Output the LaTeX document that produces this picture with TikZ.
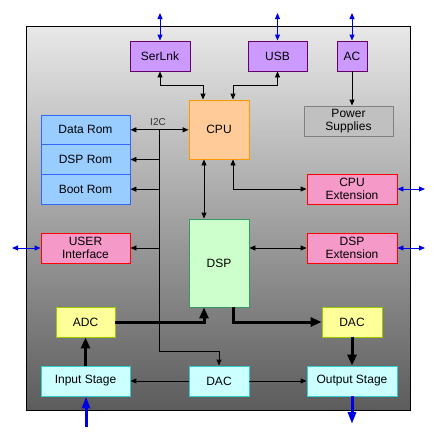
\documentclass[tikz,border=0pt]{standalone}
\usepackage{fontspec}
\setmainfont{Liberation Sans}
\usetikzlibrary{arrows.meta,calc}
\definecolor{bgtop}{RGB}{232,232,232}
\definecolor{bgbot}{RGB}{92,92,92}
\definecolor{purfill}{RGB}{204,153,255}
\definecolor{purdraw}{RGB}{102,0,102}
\definecolor{psfill}{RGB}{192,192,192}
\definecolor{psdraw}{RGB}{128,128,128}
\definecolor{cpufill}{RGB}{255,204,153}
\definecolor{cpudraw}{RGB}{255,153,0}
\definecolor{pinkfill}{RGB}{245,153,200}
\definecolor{pinkdraw}{RGB}{255,0,0}
\definecolor{romfill}{RGB}{153,204,255}
\definecolor{romdraw}{RGB}{51,102,255}
\definecolor{dspfill}{RGB}{204,255,204}
\definecolor{dspdraw}{RGB}{51,153,102}
\definecolor{yelfill}{RGB}{255,255,153}
\definecolor{yeldraw}{RGB}{153,204,0}
\definecolor{cyanfill}{RGB}{204,255,255}
\definecolor{cyandraw}{RGB}{51,204,204}
\definecolor{extblue}{RGB}{0,0,230}
\definecolor{labgray}{RGB}{50,50,50}
\tikzset{
  blk/.style={draw, line width=0.9pt, inner sep=0pt, align=center,
    font=\fontsize{12}{13.5}\selectfont, text=black},
  pur/.style={blk, fill=purfill, draw=purdraw},
  psb/.style={blk, fill=psfill, draw=psdraw},
  cpub/.style={blk, fill=cpufill, draw=cpudraw},
  pinkb/.style={blk, fill=pinkfill, draw=pinkdraw},
  romb/.style={blk, fill=romfill, draw=romdraw},
  dspb/.style={blk, fill=dspfill, draw=dspdraw},
  yelb/.style={blk, fill=yelfill, draw=yeldraw},
  cyanb/.style={blk, fill=cyanfill, draw=cyandraw},
  arr/.style={line width=0.9pt, -{Triangle[length=6pt,width=5pt]}},
  dbl/.style={line width=0.9pt, {Triangle[length=6pt,width=5pt]}-{Triangle[length=6pt,width=5pt]}},
  thk/.style={line width=3pt, -{Triangle[length=11pt,width=9pt]}},
  bdbl/.style={extblue, line width=0.9pt, {Triangle[length=6pt,width=5pt]}-{Triangle[length=6pt,width=5pt]}},
  bthk/.style={extblue, line width=3pt, -{Triangle[length=12pt,width=8pt]}},
}
\begin{document}
\begin{tikzpicture}[x=1pt,y=-1pt]
\useasboundingbox (0,0) rectangle (437,442);
\path[draw=black, line width=0.9pt, top color=bgtop, bottom color=bgbot] (26,26) rectangle (410,410);

% nodes
\node[pur, minimum width=60pt, minimum height=30pt] (serlnk) at (160,56) {SerLnk};
\node[pur, minimum width=59pt, minimum height=30pt] (usb) at (277.5,56) {USB};
\node[pur, minimum width=30pt, minimum height=30pt] (ac) at (352,56) {AC};
\node[psb, minimum width=89pt, minimum height=30pt] (ps) at (348.5,121) {Power\\Supplies};
\node[cpub, minimum width=60pt, minimum height=59pt] (cpu) at (219,129.5) {CPU};
\node[pinkb, minimum width=90pt, minimum height=30pt] (cpuext) at (352,189) {CPU\\Extension};
\node[romb, minimum width=89pt, minimum height=29.7pt] (datarom) at (85.5,129.8) {Data Rom};
\node[romb, minimum width=89pt, minimum height=29.7pt] (dsprom) at (85.5,159.5) {DSP Rom};
\node[romb, minimum width=89pt, minimum height=29.7pt] (bootrom) at (85.5,189.2) {Boot Rom};
\node[pinkb, minimum width=89pt, minimum height=30pt] (user) at (85.5,248) {USER\\Interface};
\node[dspb, minimum width=60pt, minimum height=88pt] (dsp) at (219,263) {DSP};
\node[pinkb, minimum width=90pt, minimum height=30pt] (dspext) at (352,248) {DSP\\Extension};
\node[yelb, minimum width=59pt, minimum height=30pt] (adc) at (85.5,322) {ADC};
\node[yelb, minimum width=60pt, minimum height=30pt] (dacr) at (352,322) {DAC};
\node[cyanb, minimum width=89pt, minimum height=30pt] (input) at (85.5,381) {Input Stage};
\node[cyanb, minimum width=60pt, minimum height=30pt] (dacb) at (219,381) {DAC};
\node[cyanb, minimum width=90pt, minimum height=30pt] (output) at (352,381) {Output Stage};

% I2C bus
\coordinate (bt) at (159,129.8);
\coordinate (bb) at (159,351);
\node[font=\fontsize{10}{11}\selectfont, text=labgray, inner sep=0pt] (i2c) at (158,122) {I2C};
\draw[dbl] (datarom.east) -- (cpu.west |- datarom.east);
\draw[arr] (bt) -- (bb) -| (dacb.north);
\draw[arr] (bt |- dsprom.east) -- (dsprom.east);
\draw[arr] (bt |- bootrom.east) -- (bootrom.east);
\draw[arr] (bt |- user.east) -- (user.east);

% CPU links
\draw[dbl] (serlnk.south) -- ++(0,14) -| ([xshift=-16pt]cpu.north);
\draw[dbl] (usb.south) -- ++(0,14) -| ([xshift=14pt]cpu.north);
\draw[arr] (ac.south) -- (ps.north -| ac.south);
\draw[dbl] ([xshift=14pt]cpu.south) |- (cpuext.west);
\draw[dbl] ([xshift=-15pt]cpu.south) -- ([xshift=-15pt]dsp.north);
\draw[dbl] (dsp.east |- dspext.west) -- (dspext.west);

% signal path
\draw[thk] (adc.east) -| ([xshift=-15pt]dsp.south);
\draw[thk] ([xshift=14pt]dsp.south) |- (dacr.west);
\draw[thk] (dacr.south) -- (output.north -| dacr.south);
\draw[thk] (input.north -| adc.south) -- (adc.south);
\draw[arr] (dacb.west) -- (input.east);
\draw[arr] (dacb.east) -- (output.west);

% external
\coordinate (se) at (160,13);
\coordinate (ue2) at (277.5,13);
\coordinate (ae) at (352,13);
\coordinate (ce) at (425,189);
\coordinate (de) at (425,248);
\coordinate (le) at (12,248);
\coordinate (ie) at (86,427);
\coordinate (oe) at (352,424);
\draw[bdbl] (se) -- (serlnk.north);
\draw[bdbl] (ue2) -- (usb.north);
\draw[bdbl] (ae) -- (ac.north);
\draw[bdbl] (cpuext.east) -- (ce);
\draw[bdbl] (dspext.east) -- (de);
\draw[bdbl] (le) -- (user.west);
\draw[bthk] (ie) -- (input.south -| ie);
\draw[bthk] (output.south) -- (oe);
\end{tikzpicture}
\end{document}
